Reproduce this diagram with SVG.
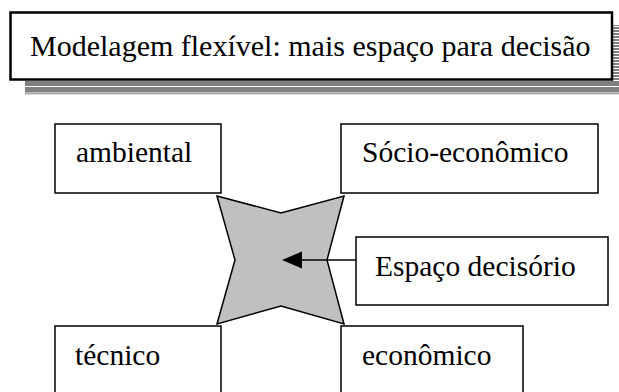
<svg xmlns="http://www.w3.org/2000/svg" width="619" height="392" viewBox="0 0 619 392">
  <defs>
    <style>
      .box { fill: #ffffff; stroke: #000000; stroke-width: 1.5; }
      .lbl { font-family: "Liberation Serif", "Times New Roman", serif; font-size: 29.5px; fill: #000000; }
      .title { font-family: "Liberation Serif", "Times New Roman", serif; font-size: 30px; fill: #000000; }
      .shadow { fill: #808080; }
    </style>
    <pattern id="stripes" x="0" y="0" width="6" height="3" patternUnits="userSpaceOnUse">
      <rect x="0" y="0" width="6" height="2" fill="#808080"/>
    </pattern>
  </defs>
  <rect width="619" height="392" fill="#ffffff"/>

  <g id="title">
    <rect x="613" y="25" width="6" height="56" fill="url(#stripes)"/>
    <rect class="shadow" x="25" y="81" width="594" height="5"/>
    <rect class="shadow" x="25" y="87" width="594" height="5.5"/>
    <rect class="shadow" x="25" y="93.3" width="594" height="1"/>
    <rect x="10.5" y="12.5" width="601.5" height="67" fill="#ffffff" stroke="#000000" stroke-width="2.5"/>
    <text class="title" x="30" y="56">Modelagem flexível: mais espaço para decisão</text>
  </g>

  <g id="ambiental">
    <rect class="box" x="55" y="124" width="166" height="69"/>
    <text class="lbl" x="76" y="162">ambiental</text>
  </g>

  <g id="socio-economico">
    <rect class="box" x="341" y="124" width="257" height="69"/>
    <text class="lbl" x="362" y="162">Sócio-econômico</text>
  </g>

  <g id="espaco-shape">
    <polygon points="217,196 281,213 344,196 327,260 344,324 281,306 217,324 235,260" fill="#c0c0c0" stroke="#000000" stroke-width="1.5" stroke-linejoin="miter"/>
  </g>

  <g id="espaco-decisorio">
    <rect class="box" x="356" y="237" width="252" height="68"/>
    <text class="lbl" x="375" y="276">Espaço decisório</text>
  </g>

  <g id="tecnico">
    <rect class="box" x="55" y="326" width="166" height="70"/>
    <text class="lbl" x="75" y="365">técnico</text>
  </g>

  <g id="economico">
    <rect class="box" x="341" y="326" width="182" height="70"/>
    <text class="lbl" x="362" y="365">econômico</text>
  </g>

  <g id="connectors">
    <line x1="356" y1="260" x2="300" y2="260" stroke="#000000" stroke-width="1.5"/>
    <polygon points="282,260 302,251.5 302,268.5" fill="#000000"/>
  </g>
</svg>
